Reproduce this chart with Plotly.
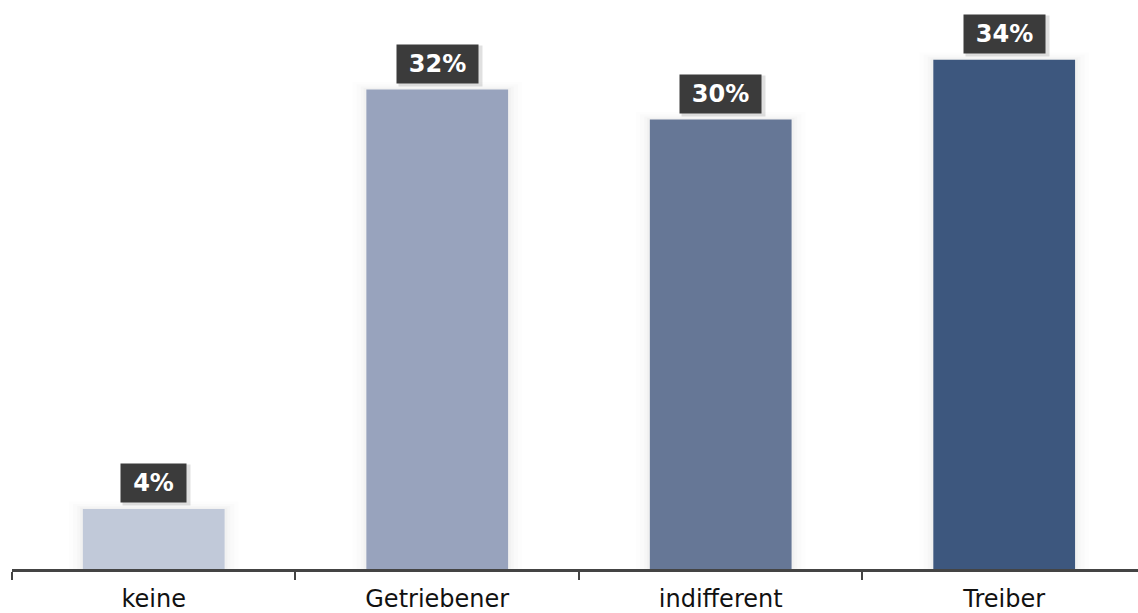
import plotly.graph_objects as go

categories = ["keine", "Getriebener", "indifferent", "Treiber"]
values = [4, 32, 30, 34]
labels = ["4%", "32%", "30%", "34%"]
colors = ["#c1c9d9", "#98a3bd", "#667796", "#3d577e"]

fig = go.Figure()

# faint glow behind bars
for k, a in [(0.10, 0.008), (0.07, 0.011), (0.04, 0.014), (0.02, 0.018)]:
    fig.add_trace(go.Bar(x=categories, y=[v + k * 5 for v in values], width=0.5 + k,
                         marker=dict(color=f"rgba(0,0,0,{a})", line=dict(width=0)),
                         hoverinfo="skip", showlegend=False))

fig.add_trace(go.Bar(x=categories, y=values, width=0.5,
                     marker=dict(color=colors, line=dict(width=0)),
                     showlegend=False))

for c, v, t in zip(categories, values, labels):
    w = 81 if len(t) == 3 else 65
    # shadow
    fig.add_annotation(x=c, y=v, yanchor="bottom", yshift=3, xshift=3, text=" ",
                       showarrow=False, width=w + 2, height=40, bgcolor="rgba(0,0,0,0.12)",
                       borderpad=0)
    fig.add_annotation(x=c, y=v, yanchor="bottom", yshift=6, text=f"<b>{t}</b>",
                       showarrow=False, width=w, height=38, bgcolor="#3b3b3b",
                       borderpad=0, font=dict(family="DejaVu Sans", size=24, color="white"))

fig.update_layout(
    width=1138, height=613,
    margin=dict(l=12, r=0, t=0, b=41),
    paper_bgcolor="white", plot_bgcolor="white",
    barmode="overlay", bargap=0.5,
    xaxis=dict(range=[-0.5, 3.472], showline=True, linecolor="#444444", linewidth=3,
               ticks="outside", tickson="boundaries", ticklen=8, tickwidth=2,
               tickcolor="#444444", showgrid=False, zeroline=False,
               ticklabelstandoff=6,
               tickfont=dict(family="DejaVu Sans", size=24, color="#111111")),
    yaxis=dict(range=[0, 572 / 15.06], visible=False, showgrid=False, zeroline=False),
)

fig.write_html("out.html")
